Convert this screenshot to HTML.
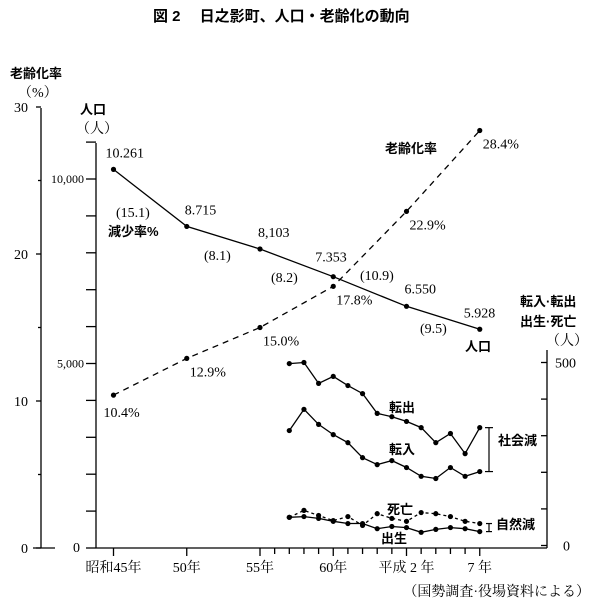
<!DOCTYPE html>
<html><head><meta charset="utf-8">
<style>
html,body{margin:0;padding:0;background:#fff;}
svg{display:block;font-family:"Liberation Serif","Noto Serif CJK SC","Noto Sans CJK JP",serif;}
.g{font-family:"Liberation Sans","Noto Sans CJK JP",sans-serif;font-weight:bold;}
</style></head>
<body>
<svg id="chart" width="600" height="612" viewBox="0 0 600 612" xmlns="http://www.w3.org/2000/svg">
<text class="g" x="153" y="21" font-size="15">図 2　 日之影町、人口・老齢化の動向</text>
<g id="axes" stroke="#000" stroke-width="1.3" fill="none"></g>
<g id="labels" font-size="14"></g>
<g id="marks"></g>
</svg>
<script>
// Census years (Showa years, 45 = 1970)
const censusYears = [45, 50, 55, 60, 65, 70];
const population = [10261, 8715, 8103, 7353, 6550, 5928];
const populationLabels = ["10.261", "8.715", "8,103", "7.353", "6.550", "5.928"];
const agingRate = [10.4, 12.9, 15.0, 17.8, 22.9, 28.4];
const declineRate = ["(15.1)", "(8.1)", "(8.2)", "(10.9)", "(9.5)"];
// Annual years (Showa 57 .. Heisei 7)
const annualYears = [57,58,59,60,61,62,63,64,65,66,67,68,69,70];
const moveOut = [497,500,443,462,437,415,361,352,339,322,281,306,251,322];
const moveIn = [314,372,331,303,281,240,221,232,213,189,183,213,189,202];
const births = [77,79,74,66,60,60,46,52,49,36,44,49,46,38];
const deaths = [77,96,82,68,79,55,87,74,66,90,87,79,66,60];
const xTickLabels = ["昭和45年","50年","55年","60年","平成 2 年","7 年"];

const NS = "http://www.w3.org/2000/svg";
const X = y => 113.5 + (y - 45) * 14.65;
const Ypop = v => 548 - v * 0.0369;
const Yage = v => 548 - v * 14.7;
const Ysm = v => 545.5 - v * 0.366;

function mk(tag, attrs, parent) {
  const e = document.createElementNS(NS, tag);
  for (const k in attrs) e.setAttribute(k, attrs[k]);
  parent.appendChild(e);
  return e;
}
function txt(parent, x, y, s, size, anchor, cls) {
  const t = mk("text", {x: x, y: y, "font-size": size || 14, "text-anchor": anchor || "start"}, parent);
  if (cls) t.setAttribute("class", cls);
  t.textContent = s;
  return t;
}
const axes = document.getElementById("axes");
const labels = document.getElementById("labels");
const marks = document.getElementById("marks");

// aging axis
let a = mk("line", {x1: 41, y1: 108, x2: 41, y2: 548}, axes);


mk("line", {x1: 33, y1: 548, x2: 55, y2: 548}, axes);
[0,10,20,30].forEach(v => {
  mk("line", {x1: 36, y1: Yage(v), x2: 41, y2: Yage(v)}, axes);
  const t = txt(labels, 28, Yage(v) + 5, String(v), 14, "end");
  
  
});
[5,15,25].forEach(v => mk("line", {x1: 38, y1: Yage(v), x2: 41, y2: Yage(v)}, axes));
let t1 = txt(labels, 10, 78, "老齢化率", 13, "start", "g");


txt(labels, 18, 97, "（%）", 14);

// population axis
let p = mk("line", {x1: 96, y1: 143, x2: 96, y2: 548}, axes);


for (let v = 0; v <= 11000; v += 1000) mk("line", {x1: 86, y1: Ypop(v), x2: 96, y2: Ypop(v)}, axes);
[[0,"0"],[5000,"5,000"],[10000,"10,000"]].forEach(([v,s]) => {
  const t = txt(labels, v === 0 ? 80 : 84, Ypop(v) + 4, s, v === 0 ? 14 : 12, "end");
  
  
});
let t2 = txt(labels, 80, 114, "人口", 13, "start", "g");


txt(labels, 76, 133, "（人）", 14);

// x axis
let xa = mk("line", {x1: 96, y1: 548, x2: 547, y2: 548}, axes);


censusYears.forEach((y, i) => {
  mk("line", {x1: X(y), y1: 548, x2: X(y), y2: 556}, axes);
  const t = txt(labels, X(y), 572, xTickLabels[i], 14, "middle");
  
  
});
for (let y = 56; y < 70; y++) if (y % 5) mk("line", {x1: X(y), y1: 548, x2: X(y), y2: 554}, axes);
let src = txt(labels, 590, 596, "（国勢調査·役場資料による）", 14, "end");



// right axis
let r = mk("line", {x1: 547, y1: 350, x2: 547, y2: 548}, axes);


for (let v = 0; v <= 500; v += 100) mk("line", {x1: 541, y1: Ysm(v), x2: 547, y2: Ysm(v)}, axes);
txt(labels, 555, Ysm(500) + 5, "500", 14);
txt(labels, 563, Ysm(0) + 5, "0", 14);
let t3 = txt(labels, 520, 306, "転入·転出", 13, "start", "g");


txt(labels, 520, 326, "出生·死亡", 13, "start", "g");
txt(labels, 546, 345, "（人）", 14);

function series(xs, ys, fx, fy, dash, name) {
  const pts = xs.map((x, i) => fx(x).toFixed(1) + "," + fy(ys[i]).toFixed(1)).join(" ");
  const l = mk("polyline", {points: pts, fill: "none", stroke: "#000", "stroke-width": 1.3}, marks);
  if (dash) l.setAttribute("stroke-dasharray", dash);
  
  
  xs.forEach((x, i) => {
    const c = mk("circle", {cx: fx(x), cy: fy(ys[i]), r: 2.6, fill: "#000"}, marks);
    
    
  });
}
series(censusYears, population, X, Ypop, null, "population");
series(censusYears, agingRate, X, Yage, "6,5", "aging-rate");
series(annualYears, moveOut, X, Ysm, null, "move-out");
series(annualYears, moveIn, X, Ysm, null, "move-in");
series(annualYears, births, X, Ysm, null, "births");
series(annualYears, deaths, X, Ysm, "3,3", "deaths");

// value labels
const popOff = [[-8,-12],[-2,-12],[-2,-12],[-18,-15],[-2,-13],[-16,-12]];
censusYears.forEach((y, i) => {
  const t = txt(labels, X(y) + popOff[i][0], Ypop(population[i]) + popOff[i][1], populationLabels[i], 14);
  
  
  const at = txt(labels, X(y) + (i === 0 ? -10 : 3), Yage(agingRate[i]) + (i === 0 ? 22 : 18), agingRate[i].toFixed(1) + "%", 14);
  
  
});
const decPos = [[116,217],[204,260],[271,282],[360,280],[420,333]];
declineRate.forEach((s, i) => {
  const t = txt(labels, decPos[i][0], decPos[i][1], s, 14);
  
  
});
txt(labels, 108, 236, "減少率%", 13, "start", "g");
txt(labels, 385, 153, "老齢化率", 13, "start", "g");
txt(labels, 465, 351, "人口", 13, "start", "g");
txt(labels, 389, 412, "転出", 13, "start", "g");
txt(labels, 389, 454, "転入", 13, "start", "g");
txt(labels, 387, 514, "死亡", 13, "start", "g");
txt(labels, 381, 543, "出生", 13, "start", "g");
// bracket for social / natural decrease
mk("line", {x1: 489, y1: Ysm(322), x2: 489, y2: Ysm(202), stroke: "#000", "stroke-width": 1.2}, marks);
mk("line", {x1: 485, y1: Ysm(322), x2: 493, y2: Ysm(322), stroke: "#000", "stroke-width": 1.2}, marks);
mk("line", {x1: 485, y1: Ysm(202), x2: 493, y2: Ysm(202), stroke: "#000", "stroke-width": 1.2}, marks);
txt(labels, 498, 445, "社会減", 13, "start", "g");
mk("line", {x1: 489, y1: Ysm(60), x2: 489, y2: Ysm(38), stroke: "#000", "stroke-width": 1.2}, marks);
mk("line", {x1: 486, y1: Ysm(60), x2: 492, y2: Ysm(60), stroke: "#000", "stroke-width": 1.2}, marks);
mk("line", {x1: 486, y1: Ysm(38), x2: 492, y2: Ysm(38), stroke: "#000", "stroke-width": 1.2}, marks);
txt(labels, 496, 529, "自然減", 13, "start", "g");
</script>
</body></html>
